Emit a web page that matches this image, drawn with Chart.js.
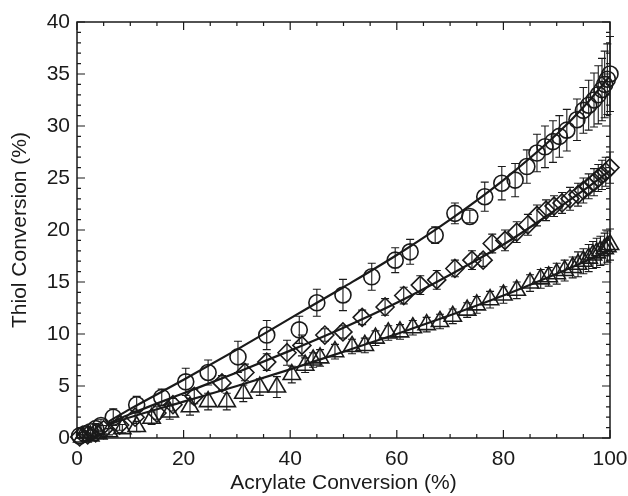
<!DOCTYPE html>
<html>
<head>
<meta charset="utf-8">
<script src="https://cdn.jsdelivr.net/npm/chart.js@4"></script>
<style>
  html, body { margin: 0; padding: 0; background: #fff; }
  #wrap { width: 628px; height: 496px; }
</style>
</head>
<body>
<div id="wrap"><canvas id="chart" width="628" height="496"></canvas></div>
<script>
// circles
const circX = [0.5, 1.5, 2.5, 3.5, 4.5, 6.8, 11.2, 15.9, 20.4, 24.6, 30.2, 35.6, 41.7, 45, 49.9, 55.3, 59.7, 62.5, 67.2, 70.9, 73.7, 76.5, 79.7, 82.2, 84.4, 86.3, 87.8, 89.3, 90.5, 91.9, 93.8, 95, 96, 97, 97.8, 98.5, 99, 99.5, 100];
const circY = [0.2, 0.4, 0.6, 0.9, 1.2, 2.0, 3.2, 3.9, 5.4, 6.3, 7.8, 9.9, 10.4, 13, 13.75, 15.5, 17.1, 17.9, 19.5, 21.6, 21.3, 23.2, 24.5, 24.8, 26.1, 27.4, 28, 28.5, 29, 29.6, 30.6, 31.5, 32, 32.5, 33, 33.5, 34, 34.5, 35];
const circErr = [0.3, 0.3, 0.4, 0.5, 0.6, 0.8, 0.8, 0.8, 1.3, 1.2, 1.5, 1.4, 1.3, 1.3, 1.5, 1.3, 1.2, 1.2, 0.8, 1.0, 0.6, 1.4, 1.6, 1.6, 1.6, 1.8, 2.0, 2.0, 2.0, 2.0, 2.0, 2.2, 2.4, 2.6, 2.8, 3.0, 3.2, 3.4, 3.6];

// diamonds
const diamX = [0.5, 2, 3.5, 5, 8, 10.9, 15, 18, 22, 27.2, 31.5, 35.6, 39.4, 42.2, 46.5, 49.9, 53.5, 57.8, 61.3, 64.4, 67.5, 70.9, 74.1, 76.2, 77.9, 80.3, 82.5, 84.6, 86.3, 88, 89.5, 91, 92.5, 94, 95, 96, 97, 97.8, 98.5, 99.2, 100];
const diamY = [0.1, 0.3, 0.5, 0.8, 1.25, 2, 2.4, 3.2, 4, 5.3, 6.3, 7.3, 8.2, 8.9, 9.9, 10.2, 11.6, 12.6, 13.7, 14.7, 15.2, 16.3, 17.1, 17.1, 18.7, 19, 19.8, 20.5, 21.4, 21.9, 22.3, 22.6, 23, 23.4, 23.8, 24.2, 24.6, 25, 25.3, 25.6, 26];
const diamErr = [0.2, 0.2, 0.3, 0.4, 0.5, 0.6, 0.6, 0.6, 0.7, 0.7, 0.8, 0.8, 1.2, 1.0, 0.6, 0.6, 0.7, 0.8, 0.8, 0.9, 0.9, 0.8, 0.9, 0.6, 0.9, 1.0, 1.0, 1.0, 1.0, 1.0, 1.0, 1.0, 1.1, 1.1, 1.2, 1.2, 1.3, 1.3, 1.4, 1.4, 1.5];

// triangles
const triX = [1, 2.5, 4, 6, 8.5, 11.2, 14, 17.4, 21.2, 24.6, 28.1, 31.2, 34.3, 37.5, 40.3, 42.8, 44.3, 45.6, 48.4, 51.6, 54, 56, 58.4, 60.6, 63, 65.6, 68.1, 70.5, 73.2, 75, 77.5, 80, 82.5, 85, 87, 88.5, 90, 91.5, 93, 94, 95, 96, 96.8, 97.5, 98.2, 99, 99.5, 100];
const triY = [0.1, 0.2, 0.4, 0.6, 0.9, 1.1, 1.9, 2.5, 3, 3.5, 3.5, 4.3, 4.9, 4.9, 6.1, 7, 7.5, 7.7, 8.3, 8.8, 8.9, 9.6, 10.1, 10.2, 10.6, 10.9, 11.2, 11.7, 12.3, 12.8, 13.3, 13.75, 14.2, 14.9, 15.3, 15.5, 15.8, 16.1, 16.4, 16.7, 17, 17.3, 17.6, 17.8, 18, 18.2, 18.4, 18.6];
const triErr = [0.2, 0.2, 0.3, 0.3, 0.4, 0.5, 0.6, 0.7, 0.8, 0.8, 0.8, 0.8, 0.8, 1.0, 0.8, 0.7, 0.7, 0.8, 0.7, 0.7, 0.7, 0.7, 0.7, 0.7, 0.7, 0.7, 0.7, 0.7, 0.7, 0.8, 0.8, 0.8, 0.8, 0.8, 0.9, 0.9, 1.0, 1.0, 1.0, 1.2, 1.2, 1.3, 1.3, 1.4, 1.4, 1.5, 1.5, 1.5];

// fitted curves
const fitX = [6, 10, 20, 30, 40, 50, 60, 70, 80, 90, 95, 100];
const fitCirc = [1.6, 2.8, 5.6, 8.5, 11.5, 14.5, 17.6, 21.0, 24.8, 29.2, 31.8, 34.8];
const fitDiam = [1.4, 2.3, 4.3, 6.3, 8.4, 10.6, 13.0, 15.7, 18.6, 22.0, 23.8, 25.7];
const fitTri = [1.3, 2.0, 3.5, 5.0, 6.6, 8.3, 10.0, 11.8, 13.7, 15.8, 16.9, 18.1];

const INK = '#1a1a1a';
const FONT = "'Liberation Sans', Arial, sans-serif";

function pts(xs, ys) {
  return xs.map((x, i) => ({ x: x, y: ys[i] }));
}

function markers(xs, ys, err, style, r) {
  return {
    type: 'scatter',
    data: pts(xs, ys),
    err: err,
    showLine: false,
    pointStyle: style,
    pointRadius: r,
    pointBorderColor: INK,
    pointBackgroundColor: 'rgba(0,0,0,0)',
    pointBorderWidth: 1.6
  };
}

function fitLine(ys) {
  return {
    type: 'line',
    data: pts(fitX, ys),
    borderColor: INK,
    borderWidth: 2.2,
    pointRadius: 0,
    cubicInterpolationMode: 'monotone',
    fill: false
  };
}

// error bars + inward ticks on all four sides
const framePlugin = {
  id: 'frame',
  afterDatasetsDraw(chart) {
    const { ctx, chartArea: a, scales: { x, y } } = chart;
    ctx.save();
    ctx.strokeStyle = INK;
    ctx.lineWidth = 1.1;
    chart.data.datasets.forEach(ds => {
      if (!ds.err) return;
      ds.data.forEach((p, i) => {
        const px = x.getPixelForValue(p.x);
        const top = y.getPixelForValue(Math.min(p.y + ds.err[i], 40));
        const bot = y.getPixelForValue(Math.max(p.y - ds.err[i], 0));
        ctx.beginPath();
        ctx.moveTo(px, top); ctx.lineTo(px, bot);
        ctx.moveTo(px - 4, top); ctx.lineTo(px + 4, top);
        ctx.moveTo(px - 4, bot); ctx.lineTo(px + 4, bot);
        ctx.stroke();
      });
    });

    ctx.lineWidth = 1.5;
    ctx.strokeRect(a.left, a.top, a.right - a.left, a.bottom - a.top);
    ctx.lineWidth = 1.2;
    ctx.beginPath();
    for (let v = 0; v <= 100; v += 5) {
      const px = x.getPixelForValue(v);
      const len = v % 20 === 0 ? 8 : 4;
      ctx.moveTo(px, a.bottom); ctx.lineTo(px, a.bottom - len);
      ctx.moveTo(px, a.top); ctx.lineTo(px, a.top + len);
    }
    for (let v = 0; v <= 40; v += 1) {
      const py = y.getPixelForValue(v);
      const len = v % 5 === 0 ? 8 : 4;
      ctx.moveTo(a.left, py); ctx.lineTo(a.left + len, py);
      ctx.moveTo(a.right, py); ctx.lineTo(a.right - len, py);
    }
    ctx.stroke();
    ctx.restore();
  }
};

new Chart(document.getElementById('chart').getContext('2d'), {
  data: {
    datasets: [
      markers(circX, circY, circErr, 'circle', 8),
      markers(diamX, diamY, diamErr, 'rectRot', 9),
      markers(triX, triY, triErr, 'triangle', 10),
      fitLine(fitCirc),
      fitLine(fitDiam),
      fitLine(fitTri)
    ]
  },
  options: {
    responsive: false,
    animation: false,
    clip: false,
    layout: { padding: { left: 0, right: 18, top: 22, bottom: 0 } },
    plugins: { legend: { display: false }, tooltip: { enabled: false } },
    scales: {
      x: {
        type: 'linear', min: 0, max: 100,
        grid: { display: false, drawTicks: false },
        border: { display: false },
        ticks: { stepSize: 20, color: INK, font: { family: FONT, size: 21 }, padding: 9, maxRotation: 0 },
        title: { display: true, text: 'Acrylate Conversion (%)', color: INK, font: { family: FONT, size: 21 }, padding: { top: 0, bottom: 0 } },
        afterFit(s) { s.height = 58; s.paddingLeft = 0; s.paddingRight = 0; }
      },
      y: {
        type: 'linear', min: 0, max: 40,
        grid: { display: false, drawTicks: false },
        border: { display: false },
        ticks: { stepSize: 5, color: INK, font: { family: FONT, size: 21 }, padding: 7 },
        title: { display: true, text: 'Thiol Conversion (%)', color: INK, font: { family: FONT, size: 21 }, padding: { top: 8, bottom: 0 } },
        afterFit(s) { s.width = 77; s.paddingTop = 0; s.paddingBottom = 0; }
      }
    }
  },
  plugins: [framePlugin]
});
</script>
</body>
</html>
